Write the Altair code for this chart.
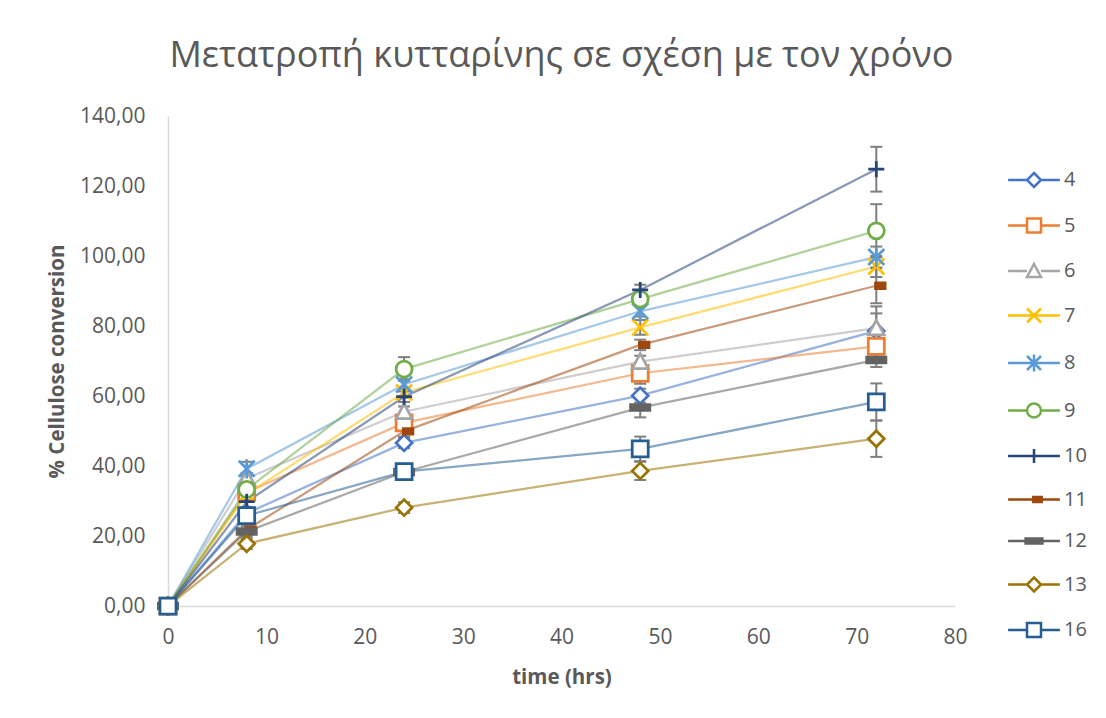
import altair as alt
import pandas as pd

series = ["4", "5", "6", "7", "8", "9", "10", "11", "12", "13", "16"]
times = [0, 8, 24, 48, 72]

values = {
    "4":  [0, 26.5, 46.6, 60.1, 78.6],
    "5":  [0, 32.5, 52.3, 66.5, 74.2],
    "6":  [0, 36.5, 55.5, 69.8, 79.4],
    "7":  [0, 32.0, 61.0, 79.6, 97.0],
    "8":  [0, 39.2, 63.3, 84.2, 99.7],
    "9":  [0, 33.3, 67.7, 87.7, 107.2],
    "10": [0, 29.8, 59.8, 90.3, 124.8],
    "11": [0, 21.8, 49.9, 74.6, 91.5],
    "12": [0, 21.3, 38.3, 56.7, 70.3],
    "13": [0, 17.8, 28.1, 38.6, 47.8],
    "16": [0, 25.8, 38.4, 44.9, 58.3],
}

errors = {
    "4":  [0, 1.5, 1.5, 2.0, 5.0],
    "5":  [0, 1.5, 1.5, 3.0, 4.0],
    "6":  [0, 1.5, 1.5, 1.7, 6.2],
    "7":  [0, 1.5, 1.5, 2.1, 3.0],
    "8":  [0, 2.0, 1.5, 1.5, 3.0],
    "9":  [0, 1.8, 3.4, 1.5, 7.6],
    "10": [0, 1.5, 1.5, 1.5, 6.4],
    "11": [0, 1.5, 1.5, 1.5, 5.0],
    "12": [0, 1.5, 1.5, 2.8, 2.0],
    "13": [0, 1.5, 1.5, 2.6, 5.2],
    "16": [0, 1.5, 1.5, 3.5, 5.3],
}

colors = ["#4472C4", "#ED7D31", "#A5A5A5", "#FFC000", "#5B9BD5", "#70AD47",
          "#264478", "#9E480E", "#636363", "#997300", "#255E91"]
fills = ["#FFFFFF", "#FFFFFF", "#FFFFFF", "#FFFFFF", "#FFFFFF", "#FFFFFF",
         "#FFFFFF", "#9E480E", "#636363", "#FFFFFF", "#FFFFFF"]

DIAMOND = "M0,-1L1,0L0,1L-1,0Z"
SQUARE = "M-1,-1L1,-1L1,1L-1,1Z"
TRIANGLE = "M0,-1L1,0.85L-1,0.85Z"
XMARK = "M-1,-1L1,1M-1,1L1,-1"
STAR = "M-1,-1L1,1M-1,1L1,-1M0,-1.2L0,1.2"
CIRCLE = "M1,0A1,1,0,1,1,-1,0A1,1,0,1,1,1,0Z"
PLUS = "M-1,0L1,0M0,-1L0,1"
DASH_S = "M-0.1,-0.35L1.1,-0.35L1.1,0.35L-0.1,0.35Z"
DASH_L = "M-1.2,-0.35L1.2,-0.35L1.2,0.35L-1.2,0.35Z"

marker_paths = [DIAMOND, SQUARE, TRIANGLE, XMARK, STAR, CIRCLE, PLUS,
                DASH_S, DASH_L, DIAMOND, SQUARE]
closed = [True, True, True, False, False, True, False, False, False, True, True]

SPLIT_LINE = "M-3.7,0L-1,0M1,0L3.7,0"
FULL_LINE = "M-3.7,0L3.7,0"
legend_paths = [(SPLIT_LINE if c else FULL_LINE) + p for p, c in zip(marker_paths, closed)]

rows = []
for s in series:
    for t, v, e in zip(times, values[s], errors[s]):
        rows.append(dict(series=s, leg=s, t=t, v=v, lo=v - e, hi=v + e, err=e))
df = pd.DataFrame(rows)

FONT = "Open Sans"
GRAY = "#595959"
XTITLE = "time (hrs)"
YTITLE = "% Cellulose conversion"

xenc = alt.X("t:Q", title=XTITLE,
             scale=alt.Scale(domain=[0, 80], nice=False),
             axis=alt.Axis(values=list(range(0, 81, 10)), labelPadding=20,
                           titlePadding=20, labelFlush=False))
yaxis = alt.Axis(values=list(range(0, 141, 20)),
                 labelExpr="replace(format(datum.value, '.2f'), '.', ',')",
                 labelPadding=23, titlePadding=12, labelFlush=False)
yscale = alt.Scale(domain=[0, 140], nice=False)

base = alt.Chart(df)

lines = base.mark_line(strokeWidth=2.25, opacity=0.55).encode(
    x=xenc,
    y=alt.Y("v:Q", title=YTITLE, scale=yscale, axis=yaxis),
    color=alt.Color("series:N", scale=alt.Scale(domain=series, range=colors), legend=None),
)

err_rules = base.transform_filter("datum.err > 0").mark_rule(
    color="#7F7F7F", strokeWidth=2).encode(
    x=xenc,
    y=alt.Y("lo:Q", title=YTITLE, scale=yscale, axis=yaxis),
    y2="hi:Q",
)

err_caps = base.transform_filter("datum.err > 0").transform_fold(
    ["lo", "hi"], as_=["end", "ev"]).mark_point(
    shape="M-1,0L1,0", size=144, stroke="#7F7F7F", strokeWidth=2, opacity=1).encode(
    x=xenc,
    y=alt.Y("ev:Q", title=YTITLE, scale=yscale, axis=yaxis),
)

points = base.mark_point(size=256, strokeWidth=2.75, opacity=1, filled=False).encode(
    x=xenc,
    y=alt.Y("v:Q", title=YTITLE, scale=yscale, axis=yaxis),
    shape=alt.Shape("series:N", scale=alt.Scale(domain=series, range=marker_paths), legend=None),
    stroke=alt.Stroke("series:N", scale=alt.Scale(domain=series, range=colors), legend=None),
    fill=alt.Fill("series:N", scale=alt.Scale(domain=series, range=fills), legend=None),
)

leg = alt.Legend(title=None, orient="none", legendX=856, legendY=54, padding=0,
                 rowPadding=21.5, labelFont=FONT, labelFontSize=20, labelColor=GRAY,
                 labelOffset=20, symbolStrokeWidth=2.5, symbolSize=196)

legend_layer = base.transform_filter("false").mark_point(
    size=196, strokeWidth=2.5, opacity=1, filled=False).encode(
    x=xenc,
    y=alt.Y("v:Q", title=YTITLE, scale=yscale, axis=yaxis),
    shape=alt.Shape("leg:N", scale=alt.Scale(domain=series, range=legend_paths), legend=leg),
    stroke=alt.Stroke("leg:N", scale=alt.Scale(domain=series, range=colors), legend=leg),
    fill=alt.Fill("leg:N", scale=alt.Scale(domain=series, range=fills), legend=leg),
)

chart = alt.layer(lines, err_rules, err_caps, points, legend_layer).resolve_scale(
    shape="independent", stroke="independent", fill="independent"
).properties(
    width=787, height=490,
    title=alt.Title("Μετατροπή κυτταρίνης σε σχέση με τον χρόνο", anchor="middle",
                    offset=30, font=FONT, fontSize=36, fontWeight="normal", color=GRAY),
    autosize=alt.AutoSizeParams(type="none"),
    padding={"left": 168, "top": 116, "right": 151, "bottom": 112},
).configure_view(stroke=None).configure_axis(
    grid=False, ticks=False, domainColor="#D9D9D9", domainWidth=1.5,
    labelFont=FONT, labelFontSize=21, labelColor=GRAY,
    titleFont=FONT, titleFontSize=20.5, titleFontWeight="bold", titleColor=GRAY,
)

chart.save("out.html", embed_options={"renderer": "svg", "actions": False})
